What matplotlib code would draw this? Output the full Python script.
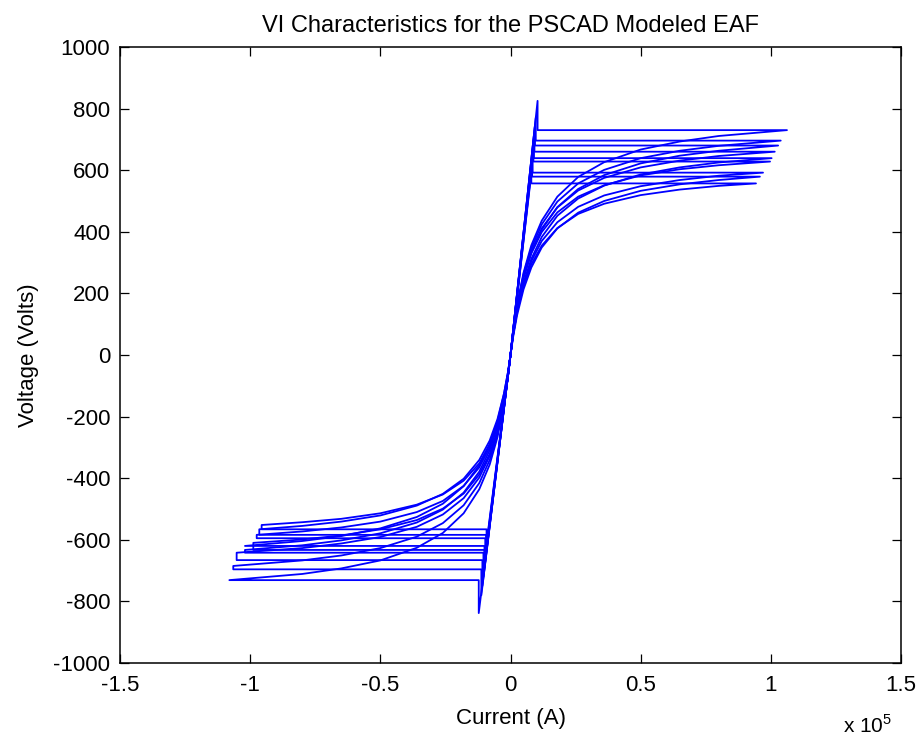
import numpy as np
import matplotlib
matplotlib.use('Agg')
import matplotlib.pyplot as plt

plt.rcParams['font.family'] = ['Liberation Sans', 'DejaVu Sans']
plt.rcParams['axes.unicode_minus'] = False
plt.rcParams['mathtext.fontset'] = 'custom'
plt.rcParams['mathtext.rm'] = 'Liberation Sans'

# current values in units of 1e5 A, voltages in V
grid_pos = [0, 0.01, 0.025, 0.05, 0.08, 0.12, 0.18, 0.26, 0.36, 0.5, 0.65, 0.8]
grid_neg = [0, -0.01, -0.025, -0.05, -0.08, -0.12, -0.18, -0.26, -0.36, -0.5, -0.65, -0.8]

# positive half cycles: ignition point, plateau voltage, peak current
ign_i_pos = [0.104, 0.097, 0.094, 0.092, 0.090, 0.088, 0.085, 0.083, 0.080]
ign_v_pos = [825, 770, 745, 720, 700, 680, 640, 620, 590]
plat_v_pos = [730, 696, 680, 660, 639, 628, 592, 579, 557]
peak_i_pos = [1.062, 1.038, 1.028, 1.015, 1.003, 0.997, 0.970, 0.958, 0.943]
curves_pos = [
    [0, 73, 160, 267, 356, 436, 514, 578, 626, 667, 693, 711],
    [0, 72, 158, 262, 347, 424, 498, 557, 601, 639, 663, 679],
    [0, 68, 149, 249, 332, 407, 480, 539, 584, 622, 647, 663],
    [0, 72, 156, 257, 338, 411, 479, 534, 575, 609, 631, 646],
    [0, 64, 141, 234, 312, 383, 452, 508, 550, 586, 609, 625],
    [0, 72, 155, 252, 330, 399, 463, 514, 551, 583, 603, 616],
    [0, 65, 141, 231, 304, 370, 431, 481, 518, 548, 568, 582],
    [0, 58, 128, 213, 284, 349, 411, 462, 500, 533, 554, 568],
    [0, 64, 138, 225, 294, 355, 412, 458, 491, 519, 537, 549],
]

# negative half cycles: plateau, peak current, voltage where the return curve starts
ign_i_neg = [-0.122, -0.112, -0.108, -0.104, -0.100, -0.097, -0.094, -0.092, -0.100]
ign_v_neg = [-838, -780, -750, -720, -690, -660, -630, -610, -680]
plat_v_neg = [-731, -696, -666, -642, -633, -595, -584, -566, -620]
peak_i_neg = [-1.080, -1.065, -1.052, -1.020, -0.988, -0.975, -0.965, -0.956, -1.020]
end_v_neg = [-731, -685, -642, -633, -610, -584, -566, -552, -620]
curves_neg = [
    [0, -73, -160, -267, -356, -436, -514, -578, -626, -667, -693, -711],
    [0, -71, -155, -257, -341, -416, -488, -546, -590, -627, -651, -667],
    [0, -70, -152, -249, -328, -398, -465, -518, -558, -591, -612, -627],
    [0, -63, -139, -232, -309, -379, -447, -502, -544, -579, -602, -618],
    [0, -70, -151, -245, -321, -388, -450, -499, -536, -566, -586, -599],
    [0, -64, -139, -228, -300, -365, -425, -474, -510, -541, -560, -573],
    [0, -57, -125, -208, -278, -341, -402, -451, -489, -521, -541, -555],
    [0, -63, -137, -223, -291, -352, -408, -453, -486, -514, -532, -543],
    [0, -57, -126, -215, -289, -358, -426, -483, -526, -563, -588, -604],
]

xticks = [-1.5, -1, -0.5, 0, 0.5, 1, 1.5]
yticks = list(range(-1000, 1001, 200))

fig = plt.figure(figsize=(9.19, 7.42), dpi=100)
ax = fig.add_axes([0.1306, 0.1065, 0.8498, 0.8302])

for k in range(len(curves_pos)):
    ii = [0, ign_i_pos[k], ign_i_pos[k], peak_i_pos[k]] + grid_pos[::-1]
    vv = [0, ign_v_pos[k], plat_v_pos[k], plat_v_pos[k]] + curves_pos[k][::-1]
    ax.plot(ii, vv, color='#0000ff', lw=1.3)

for k in range(len(curves_neg)):
    ii = [0, ign_i_neg[k], ign_i_neg[k], peak_i_neg[k], peak_i_neg[k]] + grid_neg[::-1]
    vv = [0, ign_v_neg[k], plat_v_neg[k], plat_v_neg[k], end_v_neg[k]] + curves_neg[k][::-1]
    ax.plot(ii, vv, color='#0000ff', lw=1.3)

ax.set_xlim(-1.5, 1.5)
ax.set_ylim(-1000, 1000)
ax.set_xticks(xticks)
ax.set_xticklabels(['%g' % t for t in xticks])
ax.set_yticks(yticks)
ax.set_yticklabels([str(t) for t in yticks])
ax.tick_params(direction='in', length=6.5, width=0.9, top=True, right=True,
               labelsize=16)
ax.tick_params(axis='x', pad=9)
ax.tick_params(axis='y', pad=7)
for s in ax.spines.values():
    s.set_linewidth(1.1)

ax.set_title('VI Characteristics for the PSCAD Modeled EAF', fontsize=17, pad=11)
ax.set_xlabel('Current (A)', fontsize=16, labelpad=8)
ax.set_ylabel('Voltage (Volts)', fontsize=16, labelpad=10)
fig.text(0.917, 0.012, r'x 10$^5$', fontsize=15)

fig.savefig('out.png', dpi=100)
